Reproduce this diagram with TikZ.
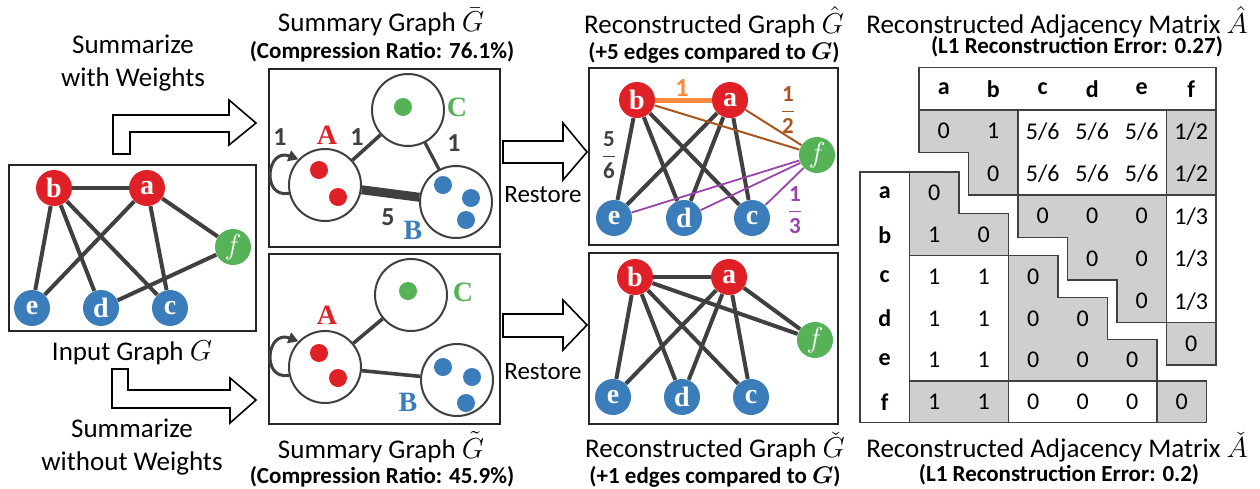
\documentclass[tikz,border=0pt]{standalone}
\usepackage{amsmath}
\usepackage{fontspec}
\setmainfont{Carlito}
\newfontfamily\vfont{Liberation Serif}
\usetikzlibrary{arrows.meta}
\usetikzlibrary{shapes.geometric}
\definecolor{v-red}{HTML}{E02027}
\definecolor{v-blue}{HTML}{3A7DBA}
\definecolor{v-green}{HTML}{55B257}
\definecolor{e-gray}{HTML}{404040}
\definecolor{e-orange}{HTML}{F78A3C}
\definecolor{e-brown}{HTML}{A9561E}
\definecolor{e-purple}{HTML}{9A45AE}
\definecolor{m-gray}{HTML}{D0CECE}
\newcommand{\fv}[2]{#1/#2}
\tikzset{
  vtx/.style={circle, fill=#1, minimum size=18pt, inner sep=0pt, text=white,
    font=\fontsize{14}{14}\vfont\bfseries},
  grp/.style={circle, draw=e-gray, line width=1pt, fill=white, minimum size=36pt, inner sep=0pt},
  pt/.style={circle, fill=#1, minimum size=9pt, inner sep=0pt},
  grplbl/.style={text=#1, font=\fontsize{14}{14}\vfont\bfseries, inner sep=0pt},
  edge/.style={draw=e-gray, line width=2pt},
  loopedge/.style={draw=e-gray, line width=1.5pt, -{Triangle[length=5pt,width=5.5pt]}},
  wlbl/.style={text=e-gray, font=\fontsize{13}{13}\selectfont\bfseries, inner sep=0pt},
  frac/.style={text=#1, font=\fontsize{11.5}{13}\selectfont, inner sep=0pt},
  panel/.style={draw=black!85, line width=0.7pt},
  barrow/.style={draw=black, line width=0.8pt, fill=white},
  mcell/.style={font=\fontsize{12}{12}\selectfont},
  mhead/.style={font=\fontsize{12}{12}\selectfont\bfseries},
  gblock/.style={fill=m-gray, draw=e-gray, line width=0.6pt},
  wblock/.style={fill=white, draw=e-gray, line width=0.6pt},
  title/.style={font=\fontsize{13.5}{16.5}\selectfont, align=center, inner sep=0pt},
  subtitle/.style={font=\fontsize{11.5}{14}\selectfont\bfseries, inner sep=0pt},
}
\begin{document}
\begin{tikzpicture}[x=0.5pt, y=-0.5pt]
  \useasboundingbox (0,0) rectangle (1260,488);

  % input graph
  \node[title] (t-sumw) at (133,63) {Summarize\\with Weights};
  \node[title] (t-sumn) at (132,447) {Summarize\\without Weights};
  \node[title] (t-in) at (132,353) {Input Graph $G$};
  \draw[barrow] (113,154) -- (113,115) -- (229,115) -- (229,100) -- (256,123)
    -- (229,145) -- (229,132) -- (130,132) -- (130,154) -- cycle;
  \draw[barrow] (112,369) -- (128,369) -- (128,390) -- (230,390) -- (230,378)
    -- (256,400) -- (230,423) -- (230,408) -- (112,408) -- cycle;
  \draw[panel] (9,165) rectangle (256,331);
  \foreach \n/\x/\y/\col/\lbl in {b/54/188/v-red/b, a/147/188/v-red/a, f/233/247/v-green/{$f$},
      e/32/308/v-blue/e, d/101/308/v-blue/d, c/170/308/v-blue/c}
    \node[vtx=\col] (in-\n) at (\x,\y) {\lbl};
  \foreach \u/\v in {b/a, b/e, b/d, b/c, a/e, a/c, a/f, d/f}
    \draw[edge] (in-\u) -- (in-\v);

  % summary graph with weights
  \node[title] (t-sg1) at (381,22) {Summary Graph $\bar{G}$};
  \node[subtitle] (st-sg1) at (382,52) {(Compression Ratio: 76.1\%)};
  \draw[panel] (269,69) rectangle (500,247);
  \node[grp] (sw-A) at (325,185) {};
  \node[grp] (sw-C) at (408,110) {};
  \node[grp] (sw-B) at (456,202) {};
  \draw[edge, line width=1.8pt] (sw-A) -- (sw-C);
  \draw[edge, line width=1.6pt] (sw-C) -- (sw-B);
  \draw[edge, line width=4.5pt] (sw-A) -- (sw-B);
  \draw[loopedge] (sw-A.193) .. controls +(-28,5) and +(-32,-12) .. (sw-A.136);
  \foreach \n/\x/\y/\col in {1/319/170/v-red, 2/338/197/v-red, 3/403/107/v-green,
      4/443/185/v-blue, 5/471/198/v-blue, 6/466/220/v-blue}
    \node[pt=\col] (sw-p\n) at (\x,\y) {};
  \node[grplbl=v-red] (sw-lA) at (327,135) {A};
  \node[grplbl=v-green] (sw-lC) at (457,107) {C};
  \node[grplbl=v-blue] (sw-lB) at (413,230) {B};
  \node[wlbl] (sw-w1) at (280,137) {1};
  \node[wlbl] (sw-w2) at (357,137) {1};
  \node[wlbl] (sw-w3) at (454,143) {1};
  \node[wlbl] (sw-w4) at (388,217) {5};

  % summary graph without weights
  \node[title] (t-sg2) at (381,447) {Summary Graph $\tilde{G}$};
  \node[subtitle] (st-sg2) at (382,477) {(Compression Ratio: 45.9\%)};
  \draw[panel] (269,254) rectangle (500,424);
  \node[grp] (sn-A) at (325,367) {};
  \node[grp] (sn-C) at (411,295) {};
  \node[grp] (sn-B) at (457,380) {};
  \draw[edge, line width=1.8pt] (sn-A) -- (sn-C);
  \draw[edge, line width=1.8pt] (sn-A) -- (sn-B);
  \draw[loopedge] (sn-A.193) .. controls +(-28,5) and +(-32,-12) .. (sn-A.136);
  \foreach \n/\x/\y/\col in {1/319/353/v-red, 2/338/378/v-red, 3/408/291/v-green,
      4/443/367/v-blue, 5/472/377/v-blue, 6/466/403/v-blue}
    \node[pt=\col] (sn-p\n) at (\x,\y) {};
  \node[grplbl=v-red] (sn-lA) at (327,315) {A};
  \node[grplbl=v-green] (sn-lC) at (463,292) {C};
  \node[grplbl=v-blue] (sn-lB) at (408,402) {B};

  % restore arrows
  \draw[barrow] (503,141) -- (563,141) -- (563,123) -- (587,152) -- (563,180)
    -- (563,163) -- (503,163) -- cycle;
  \draw[barrow] (503,314) -- (563,314) -- (563,300) -- (587,325) -- (563,350)
    -- (563,337) -- (503,337) -- cycle;
  \node[title, font=\fontsize{12.5}{15}\selectfont] (t-r1) at (543,195) {Restore};
  \node[title, font=\fontsize{12.5}{15}\selectfont] (t-r2) at (543,372) {Restore};

  % reconstructed graph (weighted)
  \node[title] (t-rg1) at (714,22) {Reconstructed Graph $\hat{G}$};
  \node[subtitle] (st-rg1) at (714,53) {(+5 edges compared to $\boldsymbol{G}$)};
  \draw[panel] (589,68) rectangle (838,245);
  \foreach \n/\x/\y/\col/\lbl in {b/637/100/v-red/b, a/730/100/v-red/a, f/817/155/v-green/{$f$},
      e/614/218/v-blue/e, d/684/218/v-blue/d, c/752/218/v-blue/c}
    \node[vtx=\col] (rh-\n) at (\x,\y) {\lbl};
  \foreach \u/\v in {b/e, b/d, b/c, a/e, a/d, a/c}
    \draw[edge] (rh-\u) -- (rh-\v);
  \draw[edge, draw=e-orange, line width=2.5pt] (rh-b) -- (rh-a);
  \foreach \u in {b, a}
    \draw[draw=e-brown, line width=1pt] (rh-\u) -- (rh-f);
  \foreach \u in {e, d, c}
    \draw[draw=e-purple, line width=0.9pt] (rh-\u) -- (rh-f);
  \node[wlbl, text=e-orange] (rh-w1) at (682,88) {1};
  \node[frac=e-gray] (rh-w56) at (609,155) {$\displaystyle\frac{\mathbf{5}}{\mathbf{6}}$};
  \node[frac=e-brown] (rh-w12) at (788,110) {$\displaystyle\frac{\mathbf{1}}{\mathbf{2}}$};
  \node[frac=e-purple] (rh-w13) at (795,210) {$\displaystyle\frac{\mathbf{1}}{\mathbf{3}}$};

  % reconstructed graph (unweighted)
  \node[title] (t-rg2) at (715,447) {Reconstructed Graph $\check{G}$};
  \node[subtitle] (st-rg2) at (715,477) {(+1 edges compared to $\boldsymbol{G}$)};
  \draw[panel] (589,253) rectangle (838,424);
  \foreach \n/\x/\y/\col/\lbl in {b/635/277/v-red/b, a/729/277/v-red/a, f/815/340/v-green/{$f$},
      e/613/397/v-blue/e, d/682/397/v-blue/d, c/751/397/v-blue/c}
    \node[vtx=\col] (rc-\n) at (\x,\y) {\lbl};
  \foreach \u/\v in {b/a, b/e, b/d, b/c, b/f, a/e, a/d, a/c, a/f}
    \draw[edge] (rc-\u) -- (rc-\v);

  % adjacency matrix (upper)
  \node[title] (t-m1) at (1057,22) {Reconstructed Adjacency Matrix $\hat{A}$};
  \node[subtitle] (st-m1) at (1077,47) {(L1 Reconstruction Error: 0.27)};
  \begin{scope}[shift={(919,110)}, x=24.75pt, y=-21.25pt]
    \draw[wblock] (0,-1) rectangle (6,0);
    \draw[gblock] (0,0) -- (2,0) -- (2,2) -- (1,2) -- (1,1) -- (0,1) -- cycle;
    \draw[wblock] (2,0) rectangle (5,2);
    \draw[gblock] (5,0) rectangle (6,2);
    \draw[gblock] (2,2) -- (5,2) -- (5,5) -- (4,5) -- (4,4) -- (3,4) -- (3,3) -- (2,3) -- cycle;
    \draw[wblock] (5,2) rectangle (6,5);
    \draw[gblock] (5,5) rectangle (6,6);
    \foreach \h [count=\i] in {a,b,c,d,e,f}
      \node[mhead] (hat-h\i) at (\i-0.5,-0.5) {\h};
    \foreach \vals [count=\r] in {{0,1,\fv56,\fv56,\fv56,\fv12},{0,\fv56,\fv56,\fv56,\fv12},
        {0,0,0,\fv13},{0,0,\fv13},{0,\fv13},{0}} {
      \foreach \v [count=\k] in \vals {
        \pgfmathtruncatemacro{\col}{\r+\k-1}
        \node[mcell] (hat-\r-\col) at (\col-0.5,\r-0.5) {\v};
      }
    }
  \end{scope}

  % adjacency matrix (lower)
  \node[title] (t-m2) at (1057,447) {Reconstructed Adjacency Matrix $\check{A}$};
  \node[subtitle] (st-m2) at (1059,475) {(L1 Reconstruction Error: 0.2)};
  \begin{scope}[shift={(860,172)}, x=24.75pt, y=-20.9pt]
    \draw[wblock] (0,0) rectangle (1,6);
    \draw[gblock] (1,0) -- (2,0) -- (2,1) -- (3,1) -- (3,2) -- (1,2) -- cycle;
    \draw[wblock] (1,2) rectangle (3,5);
    \draw[gblock] (1,5) rectangle (3,6);
    \draw[gblock] (3,2) -- (4,2) -- (4,3) -- (5,3) -- (5,4) -- (6,4) -- (6,5) -- (3,5) -- cycle;
    \draw[wblock] (3,5) rectangle (6,6);
    \draw[gblock] (6,5) rectangle (7,6);
    \foreach \h [count=\i] in {a,b,c,d,e,f}
      \node[mhead] (chk-h\i) at (0.5,\i-0.5) {\h};
    \foreach \vals [count=\r] in {{0},{1,0},{1,1,0},{1,1,0,0},{1,1,0,0,0},{1,1,0,0,0,0}} {
      \foreach \v [count=\k] in \vals
        \node[mcell] (chk-\r-\k) at (\k+0.5,\r-0.5) {\v};
    }
  \end{scope}
\end{tikzpicture}
\end{document}
